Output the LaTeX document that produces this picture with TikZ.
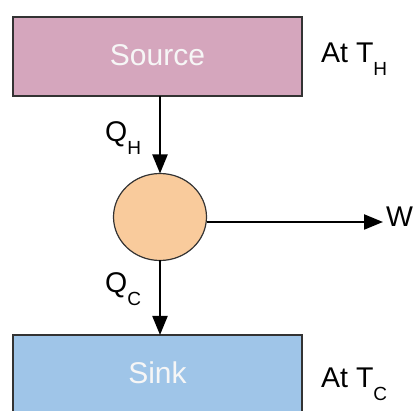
\documentclass[tikz,border=0pt]{standalone}
\usepackage{fontspec}
\setmainfont{Liberation Sans}
\usetikzlibrary{shapes.geometric,arrows.meta}
\definecolor{srcfill}{HTML}{D5A6BD}
\definecolor{sinkfill}{HTML}{9FC5E8}
\definecolor{engfill}{HTML}{F9CB9C}
\definecolor{edge}{HTML}{333333}
\definecolor{boxtext}{HTML}{F6F6F6}
\newcommand{\mainsz}{\fontsize{28.5}{30}\selectfont}
\newcommand{\boxsz}{\fontsize{30}{32}\selectfont}
\newcommand{\subtxt}[1]{\raisebox{-13pt}{\fontsize{19}{20}\selectfont #1}}
\tikzset{
  resbox/.style={draw=edge, line width=2pt, rectangle, inner sep=0pt, outer sep=0pt,
    minimum width=289pt, text=boxtext, font=\boxsz},
  engine/.style={draw=edge, line width=1.2pt, ellipse, fill=engfill, inner sep=0pt,
    minimum width=93pt, minimum height=87pt, outer sep=0pt},
  lbl/.style={anchor=base west, inner sep=0pt, font=\mainsz},
  flow/.style={line width=2.2pt, -{Triangle[length=19pt,width=15pt]}}
}
\begin{document}
\begin{tikzpicture}[x=1pt,y=-1pt]
\useasboundingbox (0,0) rectangle (413,411);
\clip (0,0) rectangle (413,411);
\node[resbox, fill=srcfill, minimum height=79pt] (src) at (157.5,57) {\raisebox{3.5pt}{Source}};
\node[resbox, fill=sinkfill, minimum height=84pt] (sink) at (157.5,377) {\raisebox{9pt}{Sink}};
\node[engine] (eng) at (160,217) {};
\node[lbl] (th) at (321,63) {At T\subtxt{H}};
\node[lbl] (tc) at (321,388) {At T\subtxt{C}};
\node[lbl] (qh) at (105,142) {Q\subtxt{H}};
\node[lbl] (qc) at (105,293) {Q\subtxt{C}};
\node[lbl] (w) at (386,227) {W};
\coordinate (wend) at (383,222);
\draw[flow] (eng.north |- src.south) -- (eng.north);
\draw[flow] (eng.south) -- (eng.south |- sink.north);
\draw[flow] ([yshift=-5pt]eng.east) -- (wend);
\end{tikzpicture}
\end{document}
